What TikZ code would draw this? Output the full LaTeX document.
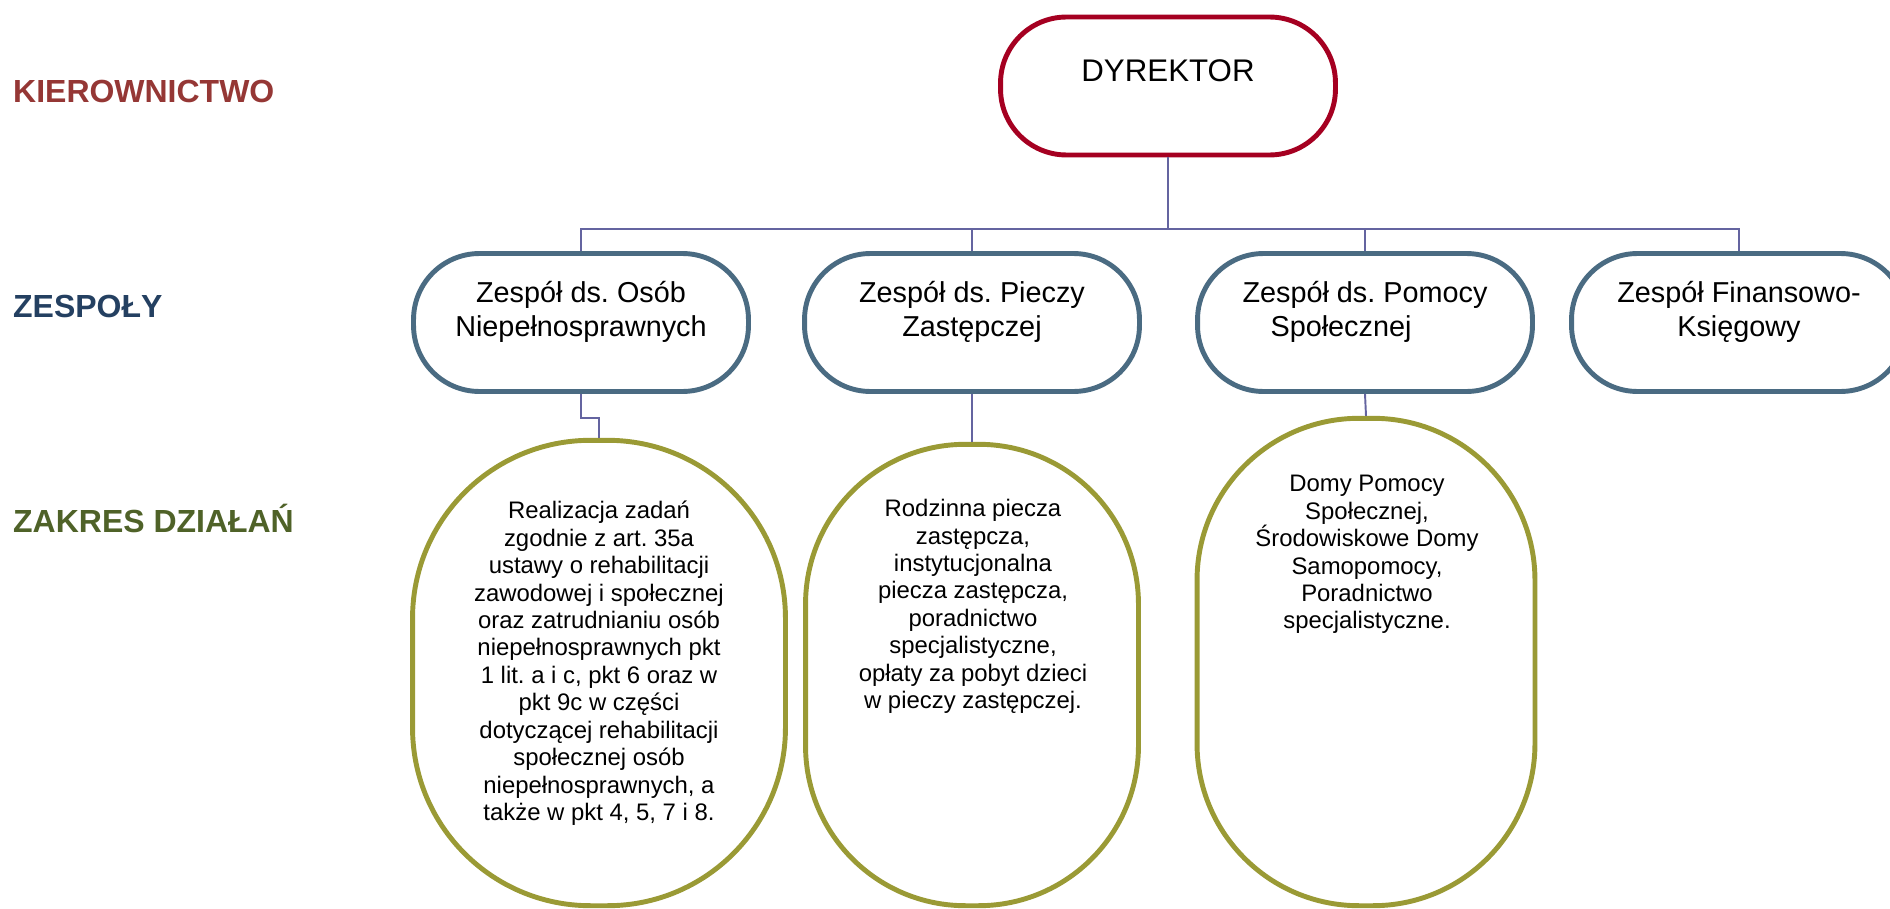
\documentclass[tikz,border=0pt]{standalone}
\usepackage{fontspec}
\setmainfont{Liberation Sans}
\usepackage{tikz}
\frenchspacing
\definecolor{kierred}{RGB}{149,55,53}
\definecolor{zespblue}{RGB}{36,64,97}
\definecolor{zakrgreen}{RGB}{79,98,40}
\definecolor{dyrred}{RGB}{165,0,33}
\definecolor{boxblue}{RGB}{74,107,130}
\definecolor{opisgreen}{RGB}{154,154,53}
\definecolor{connviolet}{RGB}{100,100,160}
\tikzset{box/.style = {draw, fill=white, line width=2.8pt, inner sep=0,
                       rounded corners=1.32cm, minimum width=6.7cm, minimum height=2.76cm}}
\tikzset{dyrbox/.style = {box, draw=dyrred}}
\tikzset{zespbox/.style = {box, draw=boxblue}}
\tikzset{opisbox/.style = {draw=opisgreen, fill=white, line width=2.8pt, inner sep=0}}
\tikzset{conn/.style = {draw=connviolet, line width=1.1pt}}
\tikzset{lvl/.style = {anchor=base west, font=\fontsize{18.2}{21}\selectfont\bfseries}}
\tikzset{ztxt/.style = {align=center, inner sep=0, font=\fontsize{16.4}{19.3}\selectfont}}
\tikzset{otxt/.style = {align=center, inner sep=0, anchor=north, font=\fontsize{13.6}{15.6}\selectfont}}

\begin{document}
\begin{tikzpicture}[x=0.02cm, y=-0.02cm]
    \useasboundingbox (0, 0) rectangle (1890, 909);

    % poziomy
    \node [lvl, text=kierred] (kier) at (7, 103) {KIEROWNICTWO};
    \node [lvl, text=zespblue] (zesp) at (7, 317) {ZESPOŁY};
    \node [lvl, text=zakrgreen] (zakr) at (7, 532) {ZAKRES DZIAŁAŃ};

    \node [dyrbox] (dyr) at (1168, 86) {};
    \node [anchor=base, inner sep=0, font=\fontsize{17.8}{21}\selectfont] (dyr-t) at (1168, 82) {DYREKTOR};

    \node [zespbox] (z1) at (581, 322.5) {};
    \node [zespbox] (z2) at (972, 322.5) {};
    \node [zespbox] (z3) at (1365, 322.5) {};
    \node [zespbox] (z4) at (1739, 322.5) {};
    \node [ztxt] (z1-t) at (581, 312) {Zespół ds. Osób\\Niepełnosprawnych};
    \node [ztxt] (z2-t) at (972, 312) {Zespół ds. Pieczy\\Zastępczej};
    \node [ztxt] (z3-t) at (1365, 312) {Zespół ds. Pomocy\\Społecznej\hspace*{0.96cm}};
    \node [ztxt] (z4-t) at (1739, 312) {Zespół Finansowo-\\Księgowy};

    \node [opisbox, minimum width=7.46cm, minimum height=9.31cm, rounded corners=3.56cm] (o1) at (599, 673) {};
    \node [opisbox, minimum width=6.66cm, minimum height=9.23cm, rounded corners=3.2cm] (o2) at (972, 675) {};
    \node [opisbox, minimum width=6.76cm, minimum height=9.75cm, rounded corners=3.24cm] (o3) at (1366, 662) {};

    \node [otxt] (o1-t) at (599, 501) {Realizacja zadań\\zgodnie z art. 35a\\ustawy o rehabilitacji\\zawodowej i społecznej\\oraz zatrudnianiu osób\\niepełnosprawnych pkt\\1 lit. a i c, pkt 6 oraz w\\pkt 9c w części\\dotyczącej rehabilitacji\\społecznej osób\\niepełnosprawnych, a\\także w pkt 4, 5, 7 i 8.};
    \node [otxt] (o2-t) at (973, 499) {Rodzinna piecza\\zastępcza,\\instytucjonalna\\piecza zastępcza,\\poradnictwo\\specjalistyczne,\\opłaty za pobyt dzieci\\w pieczy zastępczej.};
    \node [otxt] (o3-t) at (1367, 475) {Domy Pomocy\\Społecznej,\\Środowiskowe Domy\\Samopomocy,\\Poradnictwo\\specjalistyczne.};

    % polaczenia
    \coordinate (bus) at (1168, 229);
    \draw [conn] (dyr.south) -- (bus) -| (z1.north);
    \draw [conn] (bus) -| (z2.north);
    \draw [conn] (bus) -| (z3.north);
    \draw [conn] (bus) -| (z4.north);

    \draw [conn] (z1.south) -- ++(0, 24) -| (o1.north);
    \draw [conn] (z2.south) -- (o2.north);
    \draw [conn] (z3.south) -- (o3.north);
\end{tikzpicture}
\end{document}
